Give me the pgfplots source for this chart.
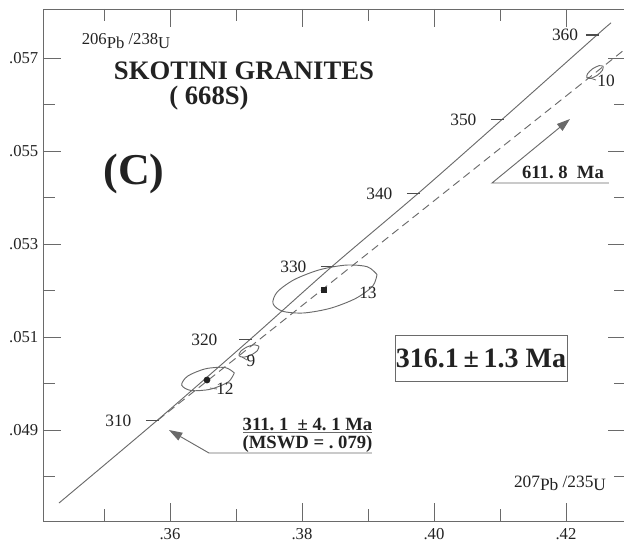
\documentclass[border=0pt]{standalone}
\usepackage{pgfplots}
\pgfplotsset{compat=1.18}
\usepackage{fontspec}
\setmainfont{Liberation Serif}
\usetikzlibrary{arrows.meta}
\definecolor{ink}{HTML}{222222}
\definecolor{ln}{HTML}{6A6A6A}
\begin{document}
\begin{tikzpicture}
\useasboundingbox (-32.25pt,-19.5pt) rectangle (435.75pt,390.75pt);
\begin{axis}[
  at={(0,0)}, anchor=south west,
  scale only axis, width=437.25pt, height=384pt,
  xmin=0.340758, xmax=0.429091, ymin=0.047043, ymax=0.058054,
  clip=false, scaled ticks=false,
  axis line style={draw=ln, line width=0.7pt},
  tick style={draw=ln, line width=0.7pt},
  tick align=inside,
  major tick length=13.5pt, minor tick length=9pt,
  xtick={0.36,0.38,0.40,0.42}, xticklabels={.36,.38,.40,.42},
  minor xtick={0.35,0.37,0.39,0.41},
  ytick={0.049,0.051,0.053,0.055,0.057},
  yticklabels={.049,.051,.053,.055,.057},
  minor ytick={0.048,0.050,0.052,0.054,0.056},
  ticklabel style={font=\fontsize{12.5}{14}\selectfont, text=ink},
  xticklabel style={yshift=-2pt},
  /pgf/number format/assume math mode=true,
  tk/.style={draw=black!70, line width=0.8pt, mark=none, forget plot},
]
% concordia
\addplot[ln, line width=0.7pt, smooth] coordinates {
(0.343182,0.047430) (0.358030,0.049204) (0.372121,0.050946) (0.384545,0.052516)
(0.397576,0.054086) (0.410303,0.055677) (0.424697,0.057495) (0.426818,0.057753)};
% concordia age ticks
\addplot[tk] coordinates {(0.356364,0.049204) (0.358333,0.049204)};
\addplot[tk] coordinates {(0.370455,0.050946) (0.372424,0.050946)};
\addplot[tk] coordinates {(0.382879,0.052516) (0.384848,0.052516)};
\addplot[tk] coordinates {(0.395909,0.054086) (0.397879,0.054086)};
\addplot[tk] coordinates {(0.408636,0.055677) (0.410606,0.055677)};
\addplot[tk] coordinates {(0.423030,0.057495) (0.425000,0.057495)};
% concordia age labels
\addplot[draw=none, mark=none,
  nodes near coords, point meta=explicit symbolic,
  every node near coord/.append style={anchor=east, xshift=-19pt, inner sep=0pt,
    font=\fontsize{13}{15}\selectfont, text=ink}]
coordinates {
(0.358030,0.049204) [310]
(0.371061,0.050946) [320]
(0.384545,0.052516) [330]
(0.397576,0.054086) [340]
(0.410303,0.055677) [350]
(0.425697,0.057495) [360]};
% discordia
\addplot[ln, line width=0.7pt, dash pattern=on 6pt off 3.75pt] coordinates {
(0.358182,0.049215) (0.428788,0.057172)};
% error ellipse 13
\addplot[ln, line width=0.7pt, smooth] coordinates {
(0.391364,0.052344) (0.389902,0.052510) (0.386718,0.052547) (0.382670,0.052446)
(0.378840,0.052235) (0.376253,0.051969) (0.375606,0.051720) (0.377068,0.051554)
(0.380252,0.051517) (0.384300,0.051618) (0.388130,0.051829) (0.390717,0.052095)
(0.391364,0.052344)};
% error ellipse 12
\addplot[ln, line width=0.7pt, smooth] coordinates {
(0.369743,0.050228) (0.368322,0.050345) (0.365400,0.050317) (0.362688,0.050160)
(0.361773,0.049966) (0.363194,0.049849) (0.366116,0.049877) (0.368828,0.050034)
(0.369743,0.050228)};
% error ellipse 9
\addplot[ln, line width=0.7pt, smooth] coordinates {
(0.373481,0.050799) (0.372834,0.050832) (0.371682,0.050787) (0.370697,0.050690)
(0.370459,0.050599) (0.371106,0.050566) (0.372258,0.050611) (0.373243,0.050708)
(0.373481,0.050799)};
% error ellipse 10
\addplot[ln, line width=0.7pt, smooth] coordinates {
(0.425635,0.056822) (0.425026,0.056836) (0.424046,0.056770) (0.423271,0.056662)
(0.423153,0.056576) (0.423762,0.056562) (0.424742,0.056628) (0.425517,0.056736)
(0.425635,0.056822)};
% centre points
\addplot[only marks, mark=square*, mark size=1.9pt, ink] coordinates {(0.383333,0.052011)};
\addplot[only marks, mark=*, mark size=2.3pt, ink] coordinates {(0.365606,0.050075)};

% labels of the analyses
\node[text=ink, font=\fontsize{13}{15}\selectfont] at (axis cs:0.390000,0.051946) {13};
\node[text=ink, font=\fontsize{13}{15}\selectfont] at (axis cs:0.368333,0.049882) {12};
\node[text=ink, font=\fontsize{13}{15}\selectfont] at (axis cs:0.372273,0.050484) {9};
\node[text=ink, font=\fontsize{13}{15}\selectfont] at (axis cs:0.426061,0.056505) {10};
\draw[ln, line width=0.6pt] (axis cs:0.366061,0.049903) -- (axis cs:0.367121,0.049882);
\draw[ln, line width=0.6pt] (axis cs:0.370909,0.050570) -- (axis cs:0.371667,0.050505);
\draw[ln, line width=0.6pt] (axis cs:0.423182,0.056591) -- (axis cs:0.424545,0.056527);

% axis titles
\node[text=ink] at (axis cs:0.353333,0.057366)
  {\fontsize{12.5}{14}\selectfont 206\raisebox{-2.5pt}{Pb} /238\raisebox{-2.5pt}{U}};
\node[text=ink] at (axis cs:0.419091,0.047860)
  {\fontsize{13}{15}\selectfont 207\raisebox{-2.5pt}{Pb} /235\raisebox{-2.5pt}{U}};

% titles
\node[text=ink, font=\fontsize{20}{24}\selectfont\bfseries] at (axis cs:0.371212,0.056720) {SKOTINI GRANITES};
\node[text=ink, font=\fontsize{20}{24}\selectfont\bfseries] at (axis cs:0.365909,0.056140) {( 668S)};
\node[text=ink, font=\fontsize{33}{38}\selectfont\bfseries] at (axis cs:0.354545,0.054505) {(C)};

% result box
\node[draw=ln, line width=0.7pt, minimum width=129pt, minimum height=34.5pt, inner sep=0pt,
  text=ink, font=\fontsize{21}{25}\selectfont\bfseries] at (axis cs:0.407121,0.050548) {316.1\,±\,1.3 Ma};

% upper intercept annotation
\draw[ln, line width=0.7pt, -{Triangle[length=10pt,width=6.5pt]}]
  (axis cs:0.426515,0.054312) -- (axis cs:0.408788,0.054312) -- (axis cs:0.420606,0.055688);
\node[text=ink, font=\fontsize{14}{16}\selectfont\bfseries] at (axis cs:0.419545,0.054548) {611.~8~~Ma};

% lower intercept annotation
\draw[ln, line width=0.7pt, -{Triangle[length=10pt,width=6.5pt]}]
  (axis cs:0.390606,0.048505) -- (axis cs:0.365909,0.048505) -- (axis cs:0.359848,0.049000);
\draw[ln, line width=0.7pt] (axis cs:0.371061,0.048957) -- (axis cs:0.390606,0.048957);
\node[text=ink, font=\fontsize{14}{16}\selectfont\bfseries] at (axis cs:0.380833,0.049129) {311.~1~~±~4.~1~Ma};
\node[text=ink, font=\fontsize{14}{16}\selectfont\bfseries] at (axis cs:0.380833,0.048699) {(MSWD = .~079)};
\end{axis}
\end{tikzpicture}
\end{document}
